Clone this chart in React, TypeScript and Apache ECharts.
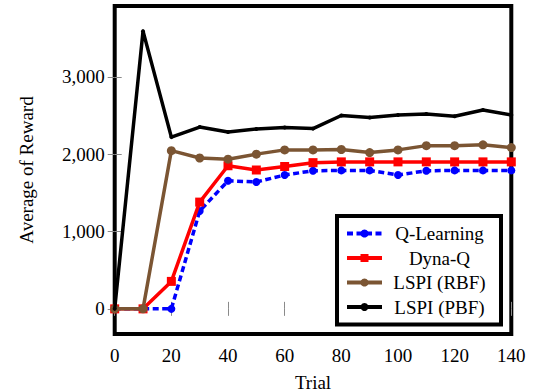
import React, { useEffect, useRef } from "react";
import * as echarts from "echarts";

const trials = [0, 10, 20, 30, 40, 50, 60, 70, 80, 90, 100, 110, 120, 130, 140];
const qLearning = [0, 0, 0, 1265, 1655, 1640, 1730, 1785, 1790, 1790, 1730, 1785, 1790, 1790, 1790];
const dynaQ = [0, 0, 355, 1380, 1850, 1795, 1840, 1890, 1900, 1900, 1900, 1900, 1900, 1900, 1900];
const lspiRbf = [0, 0, 2045, 1950, 1935, 2000, 2055, 2055, 2060, 2020, 2055, 2110, 2110, 2120, 2085];
const lspiPbf = [0, 3590, 2220, 2350, 2285, 2325, 2345, 2330, 2500, 2475, 2505, 2520, 2490, 2570, 2505];
const yTicks = [0, 1000, 2000, 3000];
const seriesNames = ["Q-Learning", "Dyna-Q", "LSPI (RBF)", "LSPI (PBF)"];

const FONT = "Liberation Serif";

export default function App() {
  const ref = useRef<HTMLDivElement>(null);
  useEffect(() => {
    if (!ref.current) return;
    const chart = echarts.init(ref.current, null, { renderer: "svg" });
    const pair = (arr: number[]) => trials.map((t, i) => [t, arr[i]]);
    const tickStyle = { show: true, inside: true, length: 7, lineStyle: { color: "#8a8a8a", width: 1 } };
    chart.setOption({
      animation: false,
      backgroundColor: "#ffffff",
      grid: {
        left: 114.7,
        right: 22.7,
        top: 6,
        bottom: 58,
        containLabel: false,
        outerBoundsMode: "none",
        show: true,
        borderColor: "#000",
        borderWidth: 4,
        backgroundColor: "transparent",
      },
      legend: {
        orient: "vertical",
        left: 337,
        top: 216,
        padding: [8, 9, 8, 8],
        borderColor: "#000",
        borderWidth: 4,
        backgroundColor: "#fff",
        itemWidth: 35,
        itemHeight: 10,
        itemGap: 5.5,
        data: seriesNames,
        lineStyle: { width: 4 },
        formatter: "{a|{name}}",
        textStyle: {
          fontFamily: FONT,
          fontSize: 19,
          color: "#000",
          rich: { a: { width: 105, align: "center", fontFamily: FONT, fontSize: 19, lineHeight: 19, color: "#000" } },
        },
      },
      xAxis: [
        {
          type: "value",
          min: 0,
          max: 140,
          interval: 20,
          position: "bottom",
          name: "Trial",
          nameLocation: "middle",
          nameGap: 42,
          nameTextStyle: { fontFamily: FONT, fontSize: 19, lineHeight: 12, color: "#000" },
          axisLine: { show: false },
          axisTick: tickStyle,
          splitLine: { show: false },
          axisLabel: { fontFamily: FONT, fontSize: 19, color: "#000", margin: 12 },
        },
        {
          type: "value",
          min: 0,
          max: 140,
          interval: 20,
          position: "top",
          axisLine: { show: false },
          axisTick: tickStyle,
          splitLine: { show: false },
          axisLabel: { show: false },
        },
      ],
      yAxis: [
        {
          type: "value",
          min: -325,
          max: 3915,
          position: "left",
          name: "Average of Reward",
          nameLocation: "middle",
          nameGap: 79,
          nameTextStyle: { fontFamily: FONT, fontSize: 19, color: "#000" },
          axisLine: { show: false },
          axisTick: { ...tickStyle, customValues: yTicks },
          splitLine: { show: false },
          axisLabel: {
            customValues: yTicks,
            fontFamily: FONT,
            fontSize: 19,
            color: "#000",
            margin: 10,
            formatter: (v: number) => v.toLocaleString("en-US"),
          },
        },
        {
          type: "value",
          min: -325,
          max: 3915,
          position: "right",
          axisLine: { show: false },
          axisTick: { ...tickStyle, customValues: yTicks },
          splitLine: { show: false },
          axisLabel: { show: false, customValues: yTicks },
        },
      ],
      series: [
        {
          name: seriesNames[0],
          type: "line",
          data: pair(qLearning),
          symbol: "circle",
          symbolSize: 8,
          itemStyle: { color: "#0000ff" },
          lineStyle: { color: "#0000ff", width: 3.5, type: [6, 3.5] },
          z: 2,
        },
        {
          name: seriesNames[1],
          type: "line",
          data: pair(dynaQ),
          symbol: "rect",
          symbolSize: 9,
          itemStyle: { color: "#ff0000" },
          lineStyle: { color: "#ff0000", width: 3.5 },
          z: 3,
        },
        {
          name: seriesNames[2],
          type: "line",
          data: pair(lspiRbf),
          symbol: "circle",
          symbolSize: 9,
          itemStyle: { color: "#7b5533" },
          lineStyle: { color: "#7b5533", width: 3.5 },
          z: 4,
        },
        {
          name: seriesNames[3],
          type: "line",
          data: pair(lspiPbf),
          symbol: "circle",
          symbolSize: 4,
          itemStyle: { color: "#000" },
          lineStyle: { color: "#000", width: 3.5 },
          z: 5,
        },
      ],
    });
    return () => chart.dispose();
  }, []);
  return (
    <div
      ref={ref}
      style={{ position: "fixed", left: 0, top: 0, width: 534, height: 392, background: "#fff" }}
    />
  );
}
